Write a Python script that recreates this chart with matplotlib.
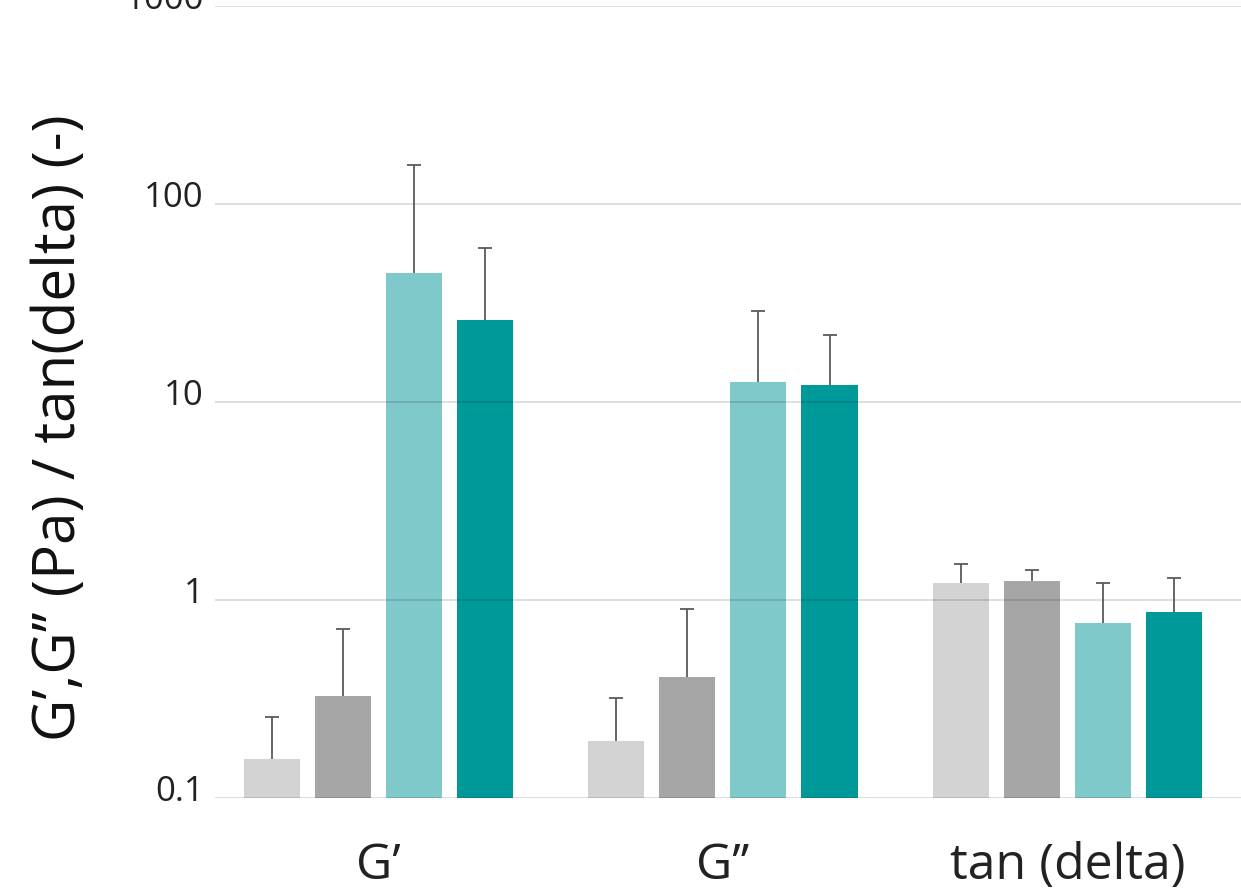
import numpy as np
import matplotlib
matplotlib.use("Agg")
import matplotlib.pyplot as plt
import matplotlib.transforms as mtransforms

plt.rcParams['font.family'] = ['Open Sans', 'DejaVu Sans']

categories = ["G’", "G’’", "tan (delta)"]
series_colors = ['#d3d3d3', '#a6a6a6', '#80c9cb', '#009999']

# mean values per series (one entry per category)
values = [
    [0.157, 0.194, 1.22],
    [0.327, 0.41, 1.25],
    [44.8, 12.6, 0.766],
    [26.0, 12.2, 0.869],
]
# upper error (standard deviation)
errors = [
    [0.10, 0.126, 0.30],
    [0.39, 0.49, 0.17],
    [112.0, 16.2, 0.45],
    [34.0, 9.6, 0.42],
]

fig = plt.figure(figsize=(12.41, 8.92), dpi=100)
ax = fig.add_axes([215 / 1241, 1 - 798 / 892, 1 - 215 / 1241, (798 - 6) / 892])

x = np.arange(len(categories))
step = 0.2065
width = 0.163
for i, (vals, errs) in enumerate(zip(values, errors)):
    pos = x + (i - 1.5) * step
    vals = np.array(vals)
    errs = np.array(errs)
    ax.bar(pos, vals - 0.1, bottom=0.1, width=width, color=series_colors[i], zorder=2)
    eb = ax.errorbar(pos, vals, yerr=[np.zeros_like(errs), errs], fmt='none',
                     ecolor='#5a5a5a', elinewidth=1.3, capsize=5, capthick=1.3, zorder=3)
    # only the upper whisker gets a cap
    eb[1][0].set_visible(False)

ax.set_yscale('log')
ax.set_ylim(0.1, 1000)
ax.set_xlim(-0.474, 2.504)
ax.set_yticks([0.1, 1, 10, 100, 1000])
ax.set_yticklabels(['0.1', '1', '10', '100', '1000'])
ax.minorticks_off()
ax.yaxis.grid(True, color='black', alpha=0.15, linewidth=1.2, zorder=4)
ax.set_axisbelow(False)
for s in ax.spines.values():
    s.set_visible(False)

ax.set_xticks(x)
ax.set_xticklabels(categories)
ax.tick_params(axis='x', length=0, pad=31, labelsize=36, labelcolor='#222222')
ax.tick_params(axis='y', length=0, pad=8, labelsize=25, labelcolor='#222222')

# y labels sit on the gridline rather than centred on it
shift = mtransforms.ScaledTranslation(0, -3 / 100, fig.dpi_scale_trans)
for lab in ax.get_yticklabels():
    lab.set_va('baseline')
    lab.set_transform(lab.get_transform() + shift)

fig.text(60 / 1241, 1 - 428 / 892, 'G’,G’’ (Pa) / tan(delta) (-)', rotation=90,
         ha='center', va='center', fontsize=42, color='#111111')

fig.savefig('out.png', dpi=100)
